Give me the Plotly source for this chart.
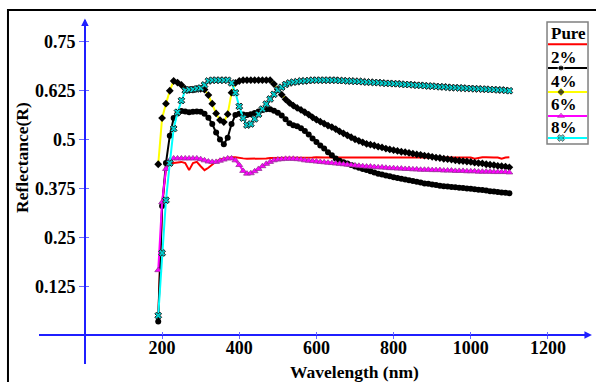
import plotly.graph_objects as go

wavelength = list(range(190, 1101, 10))

pure = [0.045, 0.330, 0.425, 0.440, 0.440, 0.442, 0.443, 0.440, 0.422, 0.440,
        0.443, 0.432, 0.422, 0.428, 0.436, 0.444, 0.449, 0.451, 0.453, 0.455,
        0.455, 0.453, 0.452, 0.451, 0.451, 0.451, 0.451, 0.452, 0.452, 0.453,
        0.453, 0.453, 0.453, 0.454, 0.454, 0.454, 0.454, 0.454, 0.453, 0.454,
        0.454, 0.455, 0.454, 0.454, 0.454, 0.454, 0.455, 0.455, 0.454, 0.454,
        0.454, 0.454, 0.454, 0.455, 0.455, 0.454, 0.454, 0.454, 0.454, 0.455,
        0.455, 0.454, 0.454, 0.454, 0.454, 0.454, 0.455, 0.455, 0.454, 0.454,
        0.454, 0.454, 0.455, 0.455, 0.454, 0.454, 0.454, 0.455, 0.455, 0.454,
        0.454, 0.454, 0.451, 0.454, 0.455, 0.455, 0.454, 0.454, 0.454, 0.451,
        0.454, 0.455]

pct2 = [0.035, 0.330, 0.440, 0.510, 0.555, 0.567, 0.573, 0.572, 0.570, 0.571,
        0.572, 0.571, 0.566, 0.556, 0.540, 0.518, 0.500, 0.488, 0.505, 0.540,
        0.563, 0.566, 0.564, 0.563, 0.565, 0.568, 0.572, 0.576, 0.578, 0.578,
        0.574, 0.569, 0.562, 0.552, 0.542, 0.537, 0.534, 0.529, 0.522, 0.513,
        0.503, 0.494, 0.485, 0.477, 0.468, 0.460, 0.452, 0.446, 0.442, 0.439,
        0.435, 0.431, 0.428, 0.425, 0.422, 0.419, 0.416, 0.413, 0.411, 0.408,
        0.406, 0.404, 0.402, 0.400, 0.398, 0.396, 0.394, 0.392, 0.390, 0.388,
        0.387, 0.385, 0.384, 0.382, 0.381, 0.380, 0.379, 0.378, 0.377, 0.376,
        0.375, 0.374, 0.373, 0.372, 0.371, 0.370, 0.368, 0.367, 0.366, 0.365,
        0.364, 0.363]

pct4 = [0.437, 0.555, 0.592, 0.625, 0.650, 0.646, 0.640, 0.630, 0.627, 0.628,
        0.630, 0.630, 0.628, 0.614, 0.592, 0.567, 0.550, 0.545, 0.565, 0.620,
        0.645, 0.650, 0.652, 0.652, 0.652, 0.652, 0.652, 0.652, 0.652, 0.652,
        0.642, 0.628, 0.615, 0.603, 0.594, 0.587, 0.581, 0.576, 0.570, 0.564,
        0.557, 0.551, 0.546, 0.541, 0.536, 0.532, 0.527, 0.521, 0.516, 0.511,
        0.506, 0.501, 0.497, 0.493, 0.489, 0.487, 0.485, 0.482, 0.480, 0.477,
        0.475, 0.473, 0.471, 0.469, 0.468, 0.466, 0.464, 0.462, 0.461, 0.459,
        0.458, 0.456, 0.454, 0.453, 0.451, 0.450, 0.449, 0.447, 0.446, 0.445,
        0.444, 0.443, 0.441, 0.440, 0.439, 0.437, 0.436, 0.435, 0.433, 0.432,
        0.431, 0.429]

pct6 = [0.166, 0.340, 0.425, 0.447, 0.452, 0.452, 0.452, 0.452, 0.452, 0.452,
        0.452, 0.450, 0.447, 0.444, 0.443, 0.443, 0.446, 0.449, 0.452, 0.452,
        0.447, 0.435, 0.420, 0.413, 0.414, 0.419, 0.425, 0.432, 0.438, 0.443,
        0.447, 0.449, 0.450, 0.451, 0.451, 0.451, 0.450, 0.449, 0.447, 0.446,
        0.445, 0.444, 0.443, 0.442, 0.441, 0.440, 0.439, 0.438, 0.437, 0.436,
        0.435, 0.434, 0.433, 0.432, 0.431, 0.431, 0.430, 0.429, 0.429, 0.428,
        0.427, 0.427, 0.426, 0.426, 0.425, 0.425, 0.424, 0.424, 0.423, 0.423,
        0.423, 0.422, 0.422, 0.422, 0.421, 0.421, 0.421, 0.420, 0.420, 0.420,
        0.419, 0.419, 0.419, 0.418, 0.418, 0.418, 0.418, 0.417, 0.417, 0.417,
        0.417, 0.416]

pct8 = [0.050, 0.210, 0.345, 0.440, 0.528, 0.570, 0.600, 0.626, 0.628, 0.628,
        0.630, 0.632, 0.640, 0.650, 0.652, 0.652, 0.652, 0.652, 0.652, 0.645,
        0.620, 0.585, 0.555, 0.537, 0.540, 0.553, 0.565, 0.578, 0.591, 0.604,
        0.616, 0.627, 0.634, 0.641, 0.645, 0.647, 0.648, 0.650, 0.650, 0.651,
        0.652, 0.652, 0.652, 0.652, 0.652, 0.652, 0.652, 0.651, 0.651, 0.650,
        0.650, 0.649, 0.649, 0.648, 0.647, 0.647, 0.646, 0.646, 0.645, 0.644,
        0.644, 0.643, 0.643, 0.642, 0.641, 0.641, 0.640, 0.639, 0.639, 0.638,
        0.637, 0.637, 0.636, 0.635, 0.635, 0.634, 0.633, 0.633, 0.632, 0.632,
        0.631, 0.631, 0.630, 0.630, 0.629, 0.629, 0.628, 0.628, 0.627, 0.627,
        0.626, 0.625]

x_ticks = [200, 400, 600, 800, 1000, 1200]
y_ticks = [0.125, 0.25, 0.375, 0.5, 0.625, 0.75]
y_tick_text = ["0.125", "0.25", "0.375", "0.5", "0.625", "0.75"]

names = ["Pure", "2%", "4%", "6%", "8%"]
series = [pure, pct2, pct4, pct6, pct8]
line_colors = ["#ff0000", "#000000", "#ffff00", "#ff00ff", "#00ffff"]
marker_symbols = [None, "circle", "diamond", "triangle-up", "x"]

X_RANGE = [-119, 1309]
Y_RANGE = [-0.074, 0.806]

FONT = "Liberation Serif, Times New Roman, serif"
AX_BLUE = "#1f1fff"
TICK_BLUE = "#6a6aff"


def marker_for(sym, size):
    if sym == "x":
        return dict(symbol="x", size=size, color="#00d0d0", line=dict(color="#202020", width=1))
    if sym == "triangle-up":
        return dict(symbol=sym, size=size, color="#ff00ff", line=dict(color="#993399", width=0.8))
    if sym == "diamond":
        return dict(symbol=sym, size=size, color="#000000")
    return dict(symbol=sym, size=size, color="#000000")


fig = go.Figure()

for name, vals, lc, sym in zip(names, series, line_colors, marker_symbols):
    if sym is None:
        fig.add_trace(go.Scatter(x=wavelength, y=vals, mode="lines", name=name,
                                 line=dict(color=lc, width=2), showlegend=False))
    else:
        fig.add_trace(go.Scatter(x=wavelength, y=vals, mode="lines+markers", name=name,
                                 line=dict(color=lc, width=2), marker=marker_for(sym, 6),
                                 showlegend=False))

# custom legend (samples on a hidden overlaying axis pair with range 0..1)
leg_text_y = [0.9594, 0.8896, 0.8199, 0.7530, 0.6861]
leg_line_y = [0.9294, 0.8605, 0.7907, 0.7209, 0.6570]
lx0, lxm, lx1 = 0.9238, 0.9474, 0.9946
for name, lc, sym, ty, ly in zip(names, line_colors, marker_symbols, leg_text_y, leg_line_y):
    if sym is None:
        fig.add_trace(go.Scatter(x=[lx0, lx1], y=[ly, ly], mode="lines", xaxis="x2", yaxis="y2",
                                 line=dict(color=lc, width=2), showlegend=False, hoverinfo="skip"))
    else:
        fig.add_trace(go.Scatter(x=[lx0, lxm, lx1], y=[ly, ly, ly], mode="lines+markers",
                                 xaxis="x2", yaxis="y2", line=dict(color=lc, width=2),
                                 marker=marker_for(sym, [0, 6, 0]), showlegend=False,
                                 hoverinfo="skip", cliponaxis=False))
    fig.add_annotation(x=0.9256, y=ty, xref="paper", yref="paper", text="<b>%s</b>" % name,
                       showarrow=False, xanchor="left", yanchor="middle",
                       font=dict(family=FONT, size=17, color="black"))

x_pos = (0 - Y_RANGE[0]) / (Y_RANGE[1] - Y_RANGE[0])
y_pos = (0 - X_RANGE[0]) / (X_RANGE[1] - X_RANGE[0])

tickfont = dict(family=FONT, size=18, color="black", weight="bold")

fig.update_layout(
    width=596, height=382,
    margin=dict(l=39, r=6, t=20, b=18, autoexpand=False),
    paper_bgcolor="white", plot_bgcolor="rgba(0,0,0,0)",
    xaxis=dict(range=X_RANGE, anchor="free", position=x_pos, showgrid=False, zeroline=False,
               showline=True, linecolor=AX_BLUE, linewidth=1.5,
               tickvals=x_ticks, ticks="outside", ticklen=3, tickcolor=TICK_BLUE, tickwidth=1,
               tickfont=tickfont, ticklabelstandoff=-6),
    yaxis=dict(range=Y_RANGE, anchor="free", position=y_pos, showgrid=False, zeroline=False,
               showline=True, linecolor=AX_BLUE, linewidth=1.5,
               tickvals=y_ticks, ticktext=y_tick_text, ticks="outside", ticklen=5,
               tickcolor=TICK_BLUE, tickwidth=1, tickfont=tickfont),
    xaxis3=dict(range=X_RANGE, overlaying="x", anchor="free", position=x_pos, showgrid=False,
                zeroline=False, showline=False, tickvals=x_ticks, ticks="inside", ticklen=3,
                tickcolor=TICK_BLUE, tickwidth=1, showticklabels=False),
    yaxis3=dict(range=Y_RANGE, overlaying="y", anchor="free", position=y_pos, showgrid=False,
                zeroline=False, showline=False, tickvals=y_ticks, ticks="inside", ticklen=3,
                tickcolor=TICK_BLUE, tickwidth=1, showticklabels=False),
    xaxis2=dict(overlaying="x", range=[0, 1], anchor="y2", visible=False),
    yaxis2=dict(overlaying="y", range=[0, 1], anchor="x2", visible=False),
    showlegend=False,
)

fig.add_trace(go.Scatter(x=[None], y=[None], xaxis="x3", yaxis="y3", showlegend=False))

# arrows on axes
fig.add_annotation(x=X_RANGE[1] + 5, y=0, ax=X_RANGE[1] - 30, ay=0, xref="x", yref="y",
                   axref="x", ayref="y", showarrow=True, arrowhead=2, arrowsize=1,
                   arrowwidth=1.5, arrowcolor=AX_BLUE, text="")
fig.add_annotation(x=0, y=Y_RANGE[1] + 0.004, ax=0, ay=Y_RANGE[1] - 0.05, xref="x", yref="y",
                   axref="x", ayref="y", showarrow=True, arrowhead=2, arrowsize=1,
                   arrowwidth=1.5, arrowcolor=AX_BLUE, text="")

# axis titles
fig.add_annotation(x=0.5735, y=-0.023, xref="paper", yref="paper", text="<b>Wavelength (nm)</b>",
                   showarrow=False, xanchor="center", yanchor="middle",
                   font=dict(family=FONT, size=17.5, color="black"))
fig.add_annotation(x=-0.031, y=0.6017, xref="paper", yref="paper", text="<b>Reflectance(R)</b>",
                   showarrow=False, textangle=-90, xanchor="center", yanchor="middle",
                   font=dict(family=FONT, size=17.5, color="black"))

# legend box
fig.add_shape(type="rect", xref="paper", yref="paper", x0=0.922, x1=0.9964, y0=0.6395, y1=0.9942,
              line=dict(color="#808080", width=1.5), fillcolor="rgba(0,0,0,0)", layer="above")
# outer frame
fig.add_shape(type="rect", xref="paper", yref="paper", x0=-0.0563, x1=1.03, y0=-0.09, y1=1.029,
              line=dict(color="black", width=2), fillcolor="rgba(0,0,0,0)", layer="above")

fig.write_html("out.html")
